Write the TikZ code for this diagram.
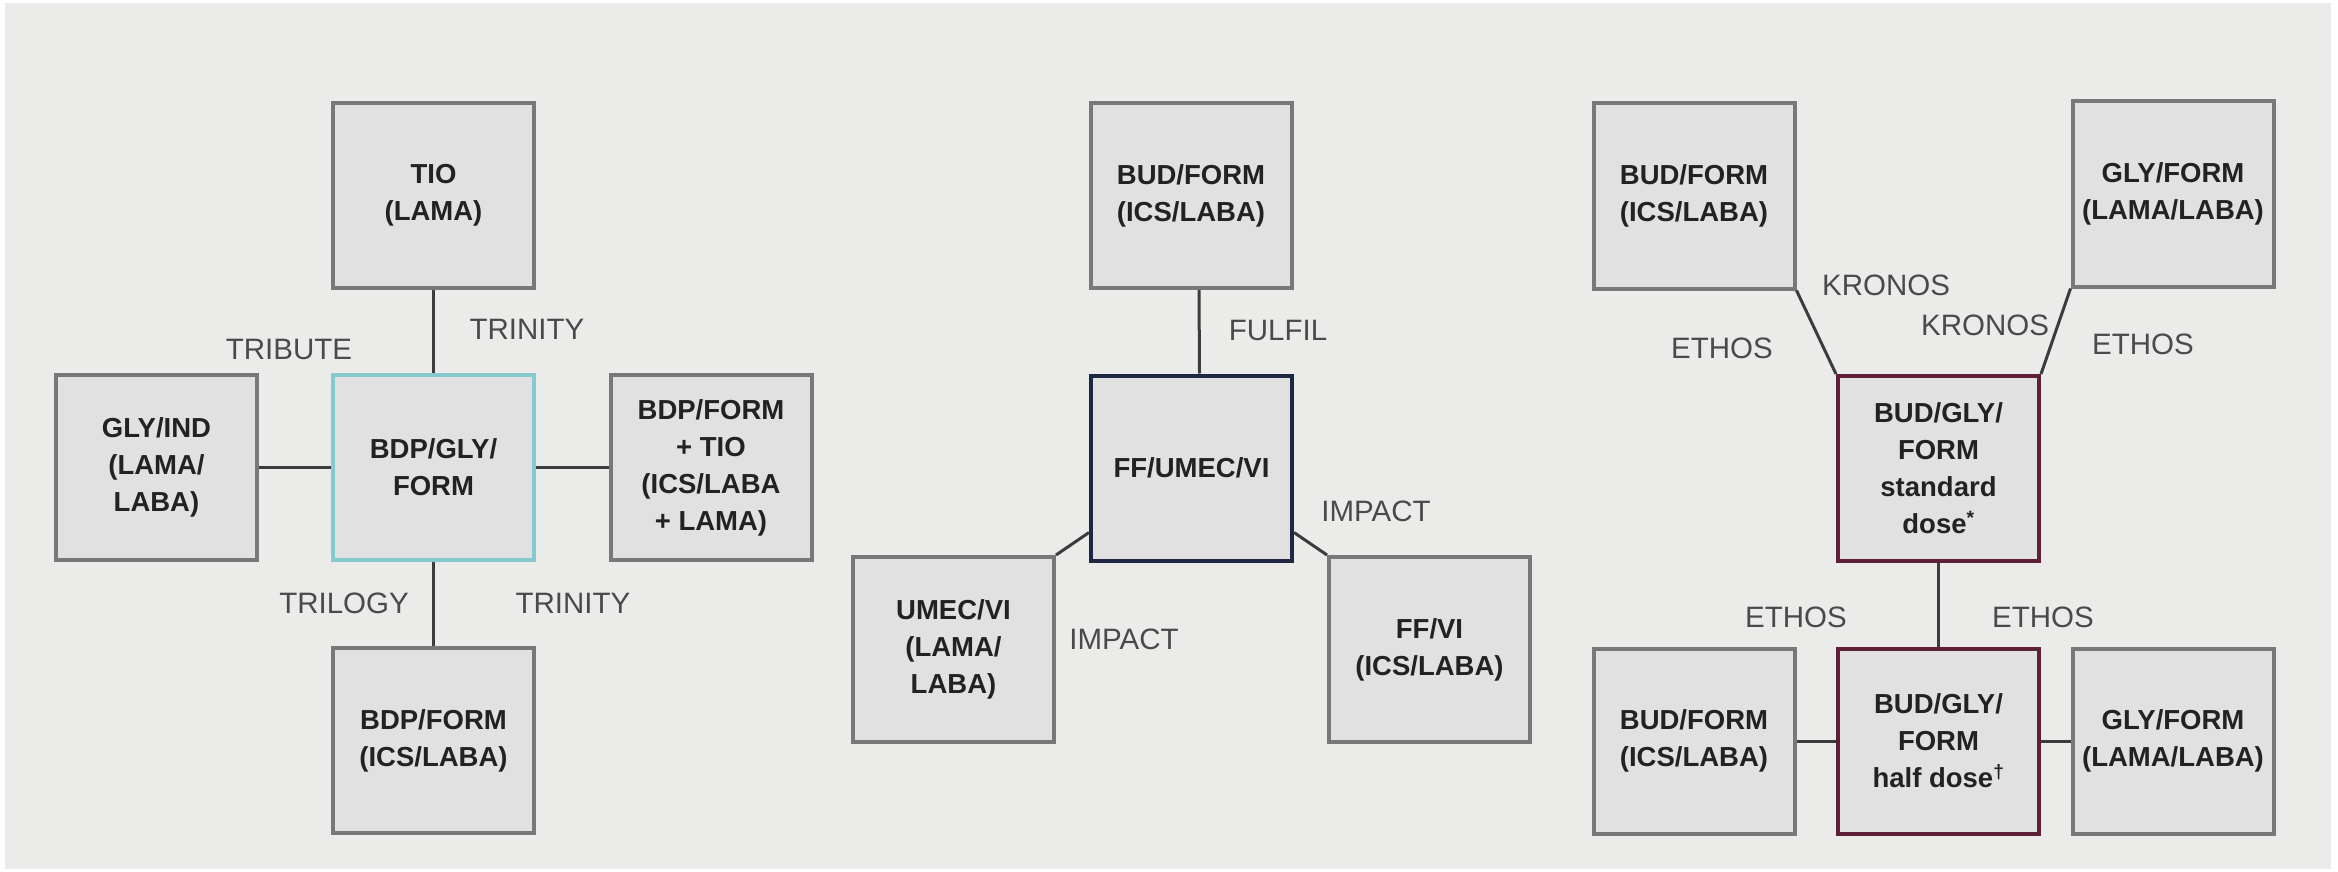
\documentclass[tikz,border=0pt]{standalone}
\usepackage{fontspec}
\setmainfont{Liberation Sans}
\definecolor{bg}{HTML}{EBECEA}
\definecolor{boxfill}{HTML}{E1E1E1}
\definecolor{boxline}{HTML}{787878}
\definecolor{boxtext}{HTML}{222222}
\definecolor{lbltext}{HTML}{4A4A4A}
\definecolor{connline}{HTML}{3C3C3C}
\definecolor{tealc}{HTML}{86C9CF}
\definecolor{navyc}{HTML}{1E2744}
\definecolor{maroonc}{HTML}{5E2038}
\tikzset{
  box/.style={draw=boxline, fill=boxfill, line width=4pt, minimum width=201pt, minimum height=185pt,
    inner sep=0pt, align=center, font=\fontsize{27.5}{37}\selectfont\bfseries, text=boxtext},
  lbl/.style={font=\fontsize{29.5}{35}\selectfont, text=lbltext, inner sep=0pt},
  conn/.style={draw=connline, line width=3pt}
}
\begin{document}
\begin{tikzpicture}[x=1pt,y=-1pt]
\useasboundingbox (0,0) rectangle (2338,872);
\fill[white] (0,0) rectangle (2338,872);
\fill[bg] (5,3) rectangle (2331,869);

% ---------- left panel ----------
\node[box] (tio) at (433.5,195.5) {TIO\\(LAMA)};
\node[box, draw=tealc] (bgf) at (433.5,467.5) {BDP/GLY/\\FORM};
\node[box] (glyind) at (156.5,467.5) {GLY/IND\\(LAMA/\\LABA)};
\node[box] (bdptio) at (711,467.5) {BDP/FORM\\+ TIO\\(ICS/LABA\\+ LAMA)};
\node[box] (bdpform) at (433.5,740.5) {BDP/FORM\\(ICS/LABA)};
\draw[conn] (tio) -- (bgf);
\draw[conn] (bgf) -- (bdpform);
\draw[conn] (glyind) -- (bgf);
\draw[conn] (bgf) -- (bdptio);
\node[lbl] (l1) at (289,349) {TRIBUTE};
\node[lbl] (l2) at (527,329) {TRINITY};
\node[lbl] (l3) at (344,603) {TRILOGY};
\node[lbl] (l4) at (573,603) {TRINITY};

% ---------- middle panel ----------
\node[box] (budform1) at (1191,195.5) {BUD/FORM\\(ICS/LABA)};
\node[box, draw=navyc] (ffumec) at (1191.5,468) {FF/UMEC/VI};
\node[box] (umec) at (953.5,649.5) {UMEC/VI\\(LAMA/\\LABA)};
\node[box] (ffvi) at (1429.5,649.5) {FF/VI\\(ICS/LABA)};
\draw[conn] ([xshift=8pt]budform1.south) -- ([xshift=8pt]ffumec.north);
\draw[conn] (umec.north east) -- ([yshift=30pt]ffumec.south west);
\draw[conn] ([yshift=30pt]ffumec.south east) -- (ffvi.north west);
\node[lbl] (l5) at (1278,330) {FULFIL};
\node[lbl] (l6) at (1376,511) {IMPACT};
\node[lbl] (l7) at (1124,639) {IMPACT};

% ---------- right panel ----------
\node[box] (budform2) at (1694,196) {BUD/FORM\\(ICS/LABA)};
\node[box] (glyform1) at (2173,194) {GLY/FORM\\(LAMA/LABA)};
\node[box, draw=maroonc] (std) at (1938.5,468.5) {BUD/GLY/\\FORM\\standard\\dose\textsuperscript{*}};
\node[box, draw=maroonc] (half) at (1938.5,741) {BUD/GLY/\\FORM\\half dose\textsuperscript{\textdagger}};
\node[box] (budform3) at (1694,741) {BUD/FORM\\(ICS/LABA)};
\node[box] (glyform2) at (2173,741) {GLY/FORM\\(LAMA/LABA)};
\draw[conn] (budform2.south east) -- (std.north west);
\draw[conn] (glyform1.south west) -- (std.north east);
\draw[conn] (std) -- (half);
\draw[conn] (budform3) -- (half);
\draw[conn] (half) -- (glyform2);
\node[lbl] (l8) at (1886,285) {KRONOS};
\node[lbl] (l9) at (1985,325) {KRONOS};
\node[lbl] (l10) at (1722,348) {ETHOS};
\node[lbl] (l11) at (2143,344) {ETHOS};
\node[lbl] (l12) at (1796,617) {ETHOS};
\node[lbl] (l13) at (2043,617) {ETHOS};
\end{tikzpicture}
\end{document}
